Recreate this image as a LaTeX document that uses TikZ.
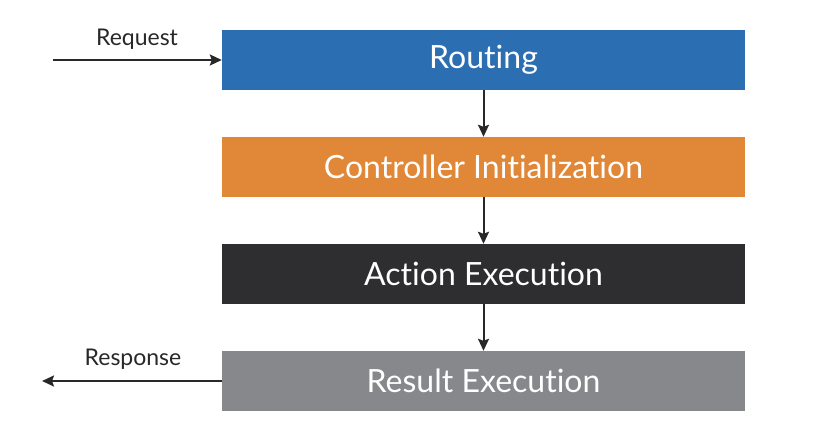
\documentclass[tikz,border=0pt]{standalone}
\usepackage{fontspec}
\setmainfont{Lato}[Ligatures=NoCommon]
\usetikzlibrary{arrows.meta}
\definecolor{routeblue}{RGB}{44,110,178}
\definecolor{ctrlorange}{RGB}{224,135,56}
\definecolor{actiondark}{RGB}{46,46,48}
\definecolor{resultgrey}{RGB}{135,136,140}
\definecolor{arrowdark}{RGB}{40,40,40}
\tikzset{
    flow/.style={draw=arrowdark, line width=2pt, -{Stealth[length=12pt,width=11pt,inset=2pt]}},
    stage/.style={minimum width=523pt, minimum height=60pt,
        inner sep=0pt, text=white, font=\fontsize{32}{38}\selectfont},
    flowlabel/.style={font=\fontsize{23}{28}\selectfont, text=arrowdark},
}
\begin{document}
\begin{tikzpicture}[x=1pt,y=-1pt]
    \useasboundingbox[fill=white] (0,0) rectangle (832,428);
    \coordinate (reqstart) at (53,60);
    \coordinate (respend) at (42,381);

    \node[stage, fill=routeblue] (routing) at (483.5,60) {Routing};
    \node[stage, fill=ctrlorange] (ctrl) at (483.5,167) {Controller Initialization};
    \node[stage, fill=actiondark] (action) at (483.5,274) {Action Execution};
    \node[stage, fill=resultgrey] (result) at (483.5,381) {Result Execution};

    \draw[flow] (routing) -- (ctrl);
    \draw[flow] (ctrl) -- (action);
    \draw[flow] (action) -- (result);
    \draw[flow] (reqstart) -- (routing.west);
    \draw[flow] (result.west) -- (respend);

    \node[flowlabel] (reqlabel) at (137,39) {Request};
    \node[flowlabel] (resplabel) at (133,359) {Response};
\end{tikzpicture}
\end{document}
